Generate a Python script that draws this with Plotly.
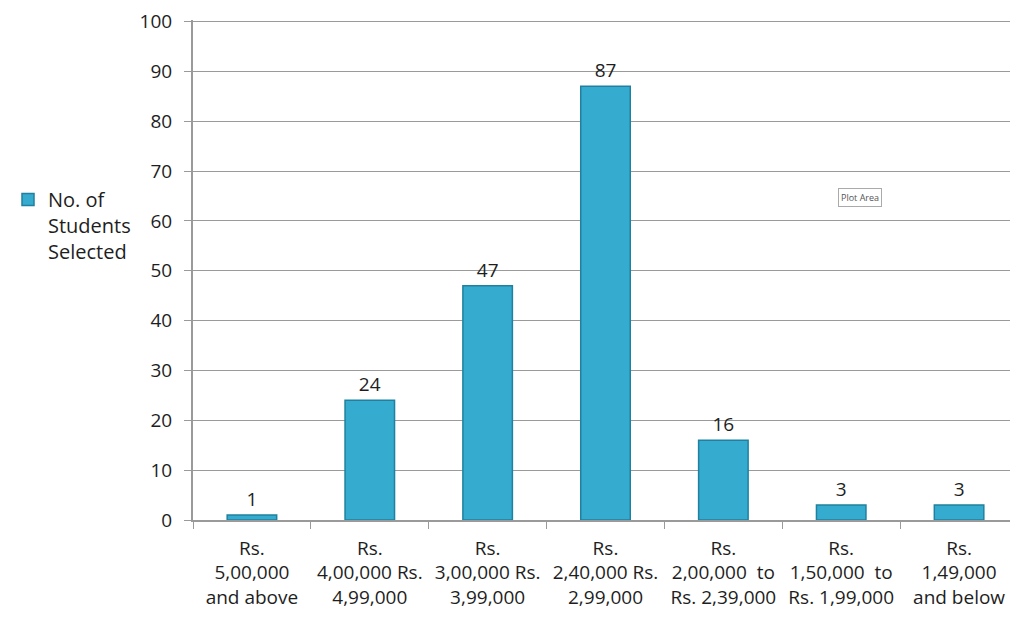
import plotly.graph_objects as go

categories = [
    "Rs.<br>5,00,000<br>and above",
    "Rs.<br>4,00,000 Rs.<br>4,99,000",
    "Rs.<br>3,00,000 Rs.<br>3,99,000",
    "Rs.<br>2,40,000 Rs.<br>2,99,000",
    "Rs.<br>2,00,000  to<br>Rs. 2,39,000",
    "Rs.<br>1,50,000  to<br>Rs. 1,99,000",
    "Rs.<br>1,49,000<br>and below",
]
students = [1, 24, 47, 87, 16, 3, 3]
y_ticks = [0, 10, 20, 30, 40, 50, 60, 70, 80, 90, 100]

FONT = "Open Sans"
TXT = "#1e1e1e"

fig = go.Figure()
fig.add_trace(go.Bar(
    x=categories,
    y=students,
    name="No. of<br>Students<br>Selected",
    text=[str(v) for v in students],
    textposition="outside",
    textfont=dict(family=FONT, size=19, color=TXT),
    cliponaxis=False,
    marker=dict(color="#36ABD0", line=dict(color="#1F819F", width=1.5)),
))

fig.update_layout(
    width=1010, height=609,
    margin=dict(l=185, r=0, t=12, b=97),
    paper_bgcolor="white", plot_bgcolor="white",
    bargap=0.58,
    showlegend=True,
    legend=dict(
        x=0, y=0.68, xref="container", xanchor="left", yanchor="top",
        font=dict(family=FONT, size=20, color=TXT),
        valign="top", bgcolor="rgba(0,0,0,0)",
    ),
    font=dict(family=FONT, size=19, color=TXT),
    annotations=[dict(
        text="Plot Area", xref="paper", yref="paper", x=0.835, y=0.645,
        showarrow=False, font=dict(family=FONT, size=9, color="#555"),
        bordercolor="#aaaaaa", borderwidth=1, borderpad=2, bgcolor="white",
    )],
)
fig.update_xaxes(
    type="category",
    showline=True, linecolor="#9a9a9a", linewidth=1.5,
    ticks="outside", tickson="boundaries", ticklen=7, tickcolor="#9a9a9a",
    ticklabelstandoff=10, tickangle=0,
    tickfont=dict(family=FONT, size=19, color=TXT),
    showgrid=False,
)
fig.update_yaxes(
    range=[0, 100.3], tickvals=y_ticks,
    showline=True, linecolor="#9a9a9a", linewidth=2,
    ticks="outside", ticklen=7, tickcolor="#9a9a9a",
    ticklabelstandoff=8,
    gridcolor="#9a9a9a", gridwidth=1,
    tickfont=dict(family=FONT, size=19, color=TXT),
    zeroline=False,
)

fig.write_html("out.html")
